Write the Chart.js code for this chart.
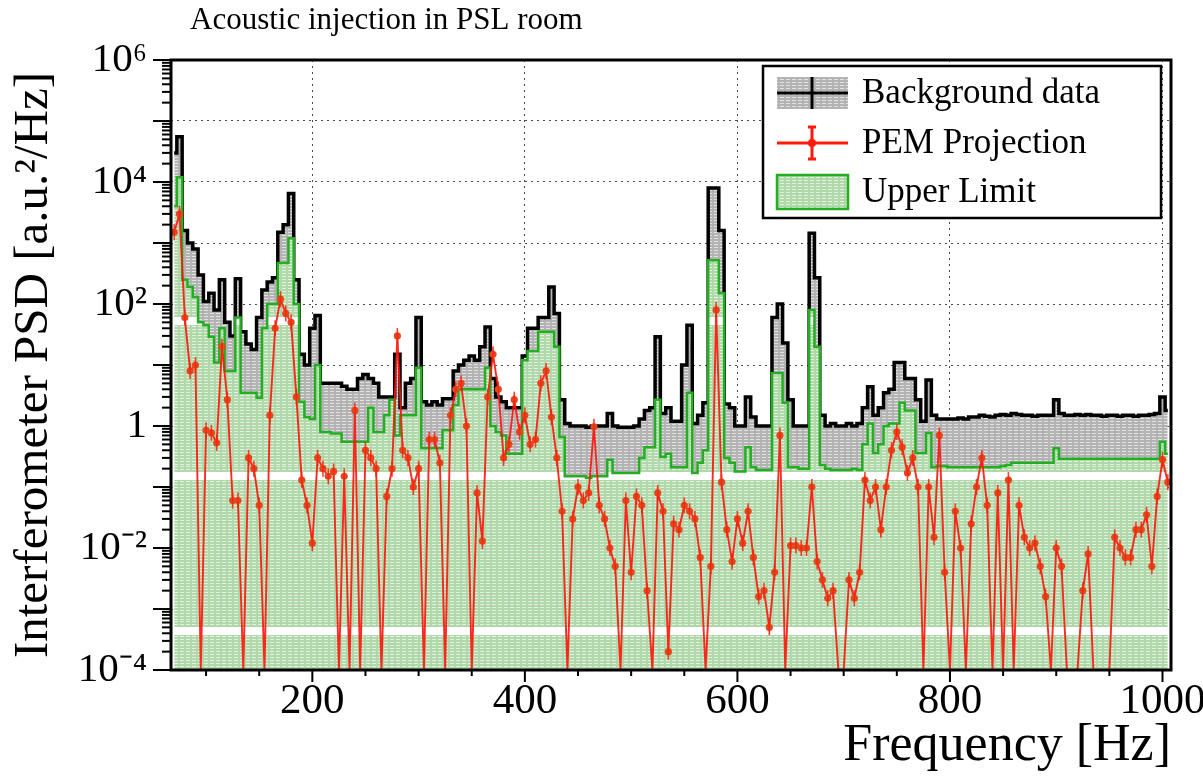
<!DOCTYPE html>
<html>
<head>
<meta charset="utf-8">
<script src="https://cdn.jsdelivr.net/npm/chart.js@4/dist/chart.umd.min.js"></script>
<style>
  html, body { margin: 0; padding: 0; background: #fff; }
  canvas { display: block; }
</style>
</head>
<body>
<canvas id="psdChart" width="1203" height="780"></canvas>
<script>
const SERIF = '"Liberation Serif", "Times New Roman", serif';

// bin centres [Hz]
const freqs = [
  70, 75, 80, 85, 90, 95, 100, 105, 110, 115,
  120, 125, 130, 135, 140, 145, 150, 155, 160, 165,
  170, 175, 180, 185, 190, 195, 200, 205, 210, 215,
  220, 225, 230, 235, 240, 245, 250, 255, 260, 265,
  270, 275, 280, 285, 290, 295, 300, 305, 310, 315,
  320, 325, 330, 335, 340, 345, 350, 355, 360, 365,
  370, 375, 380, 385, 390, 395, 400, 405, 410, 415,
  420, 425, 430, 435, 440, 445, 450, 455, 460, 465,
  470, 475, 480, 485, 490, 495, 500, 505, 510, 515,
  520, 525, 530, 535, 540, 545, 550, 555, 560, 565,
  570, 575, 580, 585, 590, 595, 600, 605, 610, 615,
  620, 625, 630, 635, 640, 645, 650, 655, 660, 665,
  670, 675, 680, 685, 690, 695, 700, 705, 710, 715,
  720, 725, 730, 735, 740, 745, 750, 755, 760, 765,
  770, 775, 780, 785, 790, 795, 800, 805, 810, 815,
  820, 825, 830, 835, 840, 845, 850, 855, 860, 865,
  870, 875, 880, 885, 890, 895, 900, 905, 910, 915,
  920, 925, 930, 935, 940, 945, 950, 955, 960, 965,
  970, 975, 980, 985, 990, 995, 1000, 1005
];

// interferometer background PSD
const background = [
  3e4, 5.5e4, 1600, 1000, 800, 300, 110, 150, 80, 250,
  50, 30, 260, 35, 22, 18, 60, 170, 230, 270,
  1500, 2000, 6500, 250, 15, 10, 40, 65, 5, 5,
  5, 5, 4.5, 4, 4, 6, 7, 6, 5, 3,
  3, 3, 15, 2, 5, 6, 60, 2.5, 2.2, 2.5,
  2.2, 2.8, 2.8, 8, 10, 12, 14, 12, 20, 42,
  6, 3, 2.5, 2, 2, 2, 14, 40, 40, 60,
  60, 190, 70, 2.7, 1.1, 1.0, 1.0, 1.0, 0.95, 1.0,
  1.0, 1.0, 1.6, 1.0, 0.95, 0.95, 0.95, 1.0, 1.3, 1.8,
  2, 29, 1.6, 2, 1.2, 1.2, 10, 45, 1.1, 1.5,
  2.4, 8000, 8000, 1600, 2.3, 2.0, 1.0, 1.0, 3, 1.4,
  1.0, 1.0, 1.0, 60, 100, 23, 2.7, 1.0, 1.0, 1.0,
  1450, 270, 1.5, 1.0, 1.1, 1.0, 1.0, 1.1, 1.0, 1.1,
  2, 4.4, 1.5, 2, 3.5, 4, 11, 11, 6, 6,
  2.7, 1.2, 5.7, 1.5, 1.3, 1.3, 1.3, 1.3, 1.35, 1.3,
  1.4, 1.4, 1.5, 1.45, 1.4, 1.5, 1.55, 1.5, 1.6, 1.55,
  1.5, 1.5, 1.45, 1.5, 1.5, 1.5, 2.7, 1.6, 1.5, 1.5,
  1.55, 1.5, 1.55, 1.5, 1.5, 1.45, 1.5, 1.5, 1.45, 1.5,
  1.5, 1.45, 1.5, 1.5, 1.55, 1.6, 3, 1.8
];

// upper limit
const upperLimit = [
  4000, 1.2e4, 250, 190, 130, 50, 45, 29, 11, 40,
  8, 8, 60, 3.5, 3.5, 3.5, 2.9, 40, 100, 100,
  470, 470, 1200, 100, 2.5, 1.4, 1.3, 10, 0.8, 0.8,
  0.75, 0.75, 0.55, 0.55, 0.55, 0.55, 0.55, 2, 0.8, 0.8,
  1.5, 2.7, 0.7, 1.5, 1.5, 1.5, 9, 0.43, 0.43, 0.43,
  0.43, 0.85, 0.85, 2.2, 4, 4, 4, 4, 4, 9,
  1, 0.8, 0.7, 0.35, 0.35, 0.35, 12, 17, 17, 35,
  35, 35, 20, 0.66, 0.15, 0.15, 0.15, 0.15, 0.14, 0.15,
  0.15, 0.15, 0.28, 0.17, 0.17, 0.17, 0.17, 0.17, 0.3, 0.45,
  0.45, 2.7, 0.31, 0.35, 0.21, 0.21, 0.21, 3.5, 0.17, 0.25,
  0.4, 520, 520, 150, 0.3, 0.25, 0.18, 0.18, 0.45, 0.21,
  0.19, 0.19, 0.19, 7.4, 7.4, 2.4, 0.21, 0.21, 0.2, 0.2,
  80, 20, 0.23, 0.2, 0.19, 0.19, 0.19, 0.19, 0.2, 0.19,
  0.5, 1.1, 0.36, 0.5, 1, 1.1, 1.1, 2.4, 1.8, 1.8,
  0.36, 0.36, 0.77, 0.21, 0.22, 0.22, 0.21, 0.21, 0.21, 0.21,
  0.21, 0.21, 0.21, 0.21, 0.21, 0.21, 0.22, 0.23, 0.25, 0.25,
  0.25, 0.25, 0.25, 0.25, 0.25, 0.25, 0.43, 0.29, 0.29, 0.29,
  0.29, 0.29, 0.29, 0.29, 0.29, 0.29, 0.29, 0.29, 0.29, 0.29,
  0.29, 0.29, 0.29, 0.29, 0.29, 0.29, 0.55, 0.35
];

// PEM projection (1e-4 = at or below the bottom of the frame)
const pemProjection = [
  1500, 3000, 60, 8, 10, 1e-4, 0.85, 0.77, 0.53, 20,
  2.7, 0.06, 0.06, 1e-4, 0.3, 0.2, 0.05, 1e-4, 1.5, 40,
  120, 70, 50, 3, 0.13, 0.05, 0.012, 0.3, 0.2, 0.15,
  0.18, 1e-4, 0.15, 1e-4, 1.8, 1e-4, 0.4, 0.3, 0.2, 1e-4,
  0.07, 0.2, 30, 0.4, 0.3, 0.1, 0.2, 1e-4, 0.6, 0.6,
  0.25, 1e-4, 1.5, 4, 5, 1, 1e-4, 0.08, 0.013, 3,
  15, 4, 0.3, 0.5, 2.7, 0.8, 1.5, 0.5, 0.6, 5,
  8, 1.4, 0.3, 0.04, 1e-4, 0.03, 0.1, 0.06, 0.08, 0.97,
  0.05, 0.03, 0.01, 0.005, 1e-4, 0.06, 0.004, 0.07, 0.05, 0.002,
  1e-4, 0.08, 0.04, 0.0002, 0.025, 0.02, 0.05, 0.04, 0.03, 0.007,
  1e-4, 0.005, 80, 0.12, 0.02, 0.006, 0.03, 0.012, 0.04, 0.007,
  0.0016, 0.002, 0.0005, 0.004, 0.7, 1e-4, 0.011, 0.011, 0.01, 0.01,
  0.1, 0.006, 0.003, 0.0015, 0.002, 1e-4, 1e-4, 0.003, 0.0015, 0.004,
  0.13, 0.06, 0.1, 0.02, 0.1, 0.4, 0.8, 0.45, 0.17, 0.3,
  0.1, 1e-4, 0.1, 0.015, 0.7, 0.004, 1e-4, 0.04, 0.01, 1e-4,
  0.025, 0.1, 0.3, 0.05, 1e-4, 0.08, 1e-4, 0.13, 1e-4, 0.05,
  0.015, 0.01, 0.012, 0.005, 0.0016, 1e-4, 0.01, 0.005, 1e-4, 1e-4,
  1e-4, 0.002, 0.008, 1e-4, 1e-4, 1e-4, 1e-4, 0.015, 0.01, 0.007,
  0.007, 0.02, 0.02, 0.035, 0.005, 0.07, 0.28, 0.12
];

const xTickValues = [200, 400, 600, 800, 1000];
const yDecades = [1e-4, 1e-3, 1e-2, 1e-1, 1, 10, 100, 1e3, 1e4, 1e5, 1e6];
const yTickLabels = { '6': '10\u2076', '4': '10\u2074', '2': '10\u00b2', '0': '1', '-2': '10\u207b\u00b2', '-4': '10\u207b\u2074' };
const legendLabels = ['Background data', 'PEM Projection', 'Upper Limit'];
const chartTitle = 'Acoustic injection in PSL room';

function makePattern(w, h, paint) {
  const c = document.createElement('canvas');
  c.width = w;
  c.height = h;
  paint(c.getContext('2d'));
  return c.getContext('2d').createPattern(c, 'repeat');
}

const grayHatch = makePattern(6, 3, g => {
  g.fillStyle = '#b3b3b3';
  g.fillRect(0, 0, 6, 3);
  g.fillStyle = '#e2e2e2';
  g.fillRect(0, 1, 4, 1);
});

const greenHatch = makePattern(6, 155, g => {
  g.fillStyle = 'rgb(176,216,170)';
  g.fillRect(0, 0, 6, 155);
  g.fillStyle = 'rgb(226,242,223)';
  for (let r = 1; r < 155; r += 3) g.fillRect(0, r, 4, 1);
  g.fillStyle = '#fff';
  g.fillRect(0, 7, 6, 8);
});

function line(ctx, x1, y1, x2, y2) {
  ctx.beginPath();
  ctx.moveTo(x1, y1);
  ctx.lineTo(x2, y2);
  ctx.stroke();
}

const errorBars = {
  id: 'errorBars',
  afterDatasetsDraw(chart) {
    const meta = chart.getDatasetMeta(2);
    const { ctx, chartArea: a } = chart;
    ctx.save();
    ctx.beginPath();
    ctx.rect(a.left, a.top, a.right - a.left, a.bottom - a.top);
    ctx.clip();
    ctx.strokeStyle = 'rgba(255,30,10,0.85)';
    ctx.lineWidth = 1.6;
    meta.data.forEach((pt, i) => {
      if (pemProjection[i] > 1e-4) line(ctx, pt.x, pt.y - 8, pt.x, pt.y + 8);
    });
    ctx.restore();
  }
};

const rootFrame = {
  id: 'rootFrame',
  afterDraw(chart) {
    const { ctx, chartArea: a, scales: { x, y } } = chart;
    ctx.save();
    ctx.strokeStyle = '#000';

    // frame
    ctx.lineWidth = 3;
    ctx.strokeRect(a.left, a.top, a.right - a.left, a.bottom - a.top);

    // log ticks on the y axis
    ctx.lineWidth = 2;
    for (let e = -4; e <= 6; e++) {
      const py = y.getPixelForValue(Math.pow(10, e));
      line(ctx, a.left - 18, py, a.left, py);
      if (e < 6) {
        for (let k = 2; k <= 9; k++) {
          const p = y.getPixelForValue(k * Math.pow(10, e));
          line(ctx, a.left - 9, p, a.left, p);
        }
      }
    }
    // x ticks
    for (let f = 100; f <= 1000; f += 50) {
      const px = x.getPixelForValue(f);
      line(ctx, px, a.bottom, px, a.bottom + (f % 200 === 0 ? 12 : 6));
    }

    // title
    ctx.fillStyle = '#000';
    ctx.font = '31px ' + SERIF;
    ctx.textAlign = 'left';
    ctx.textBaseline = 'middle';
    ctx.fillText(chartTitle, 190, 21);

    // legend
    const L = { x: 763, y: 66, w: 398, h: 152 };
    ctx.fillStyle = '#fff';
    ctx.fillRect(L.x, L.y, L.w, L.h);
    ctx.lineWidth = 2.5;
    ctx.strokeRect(L.x, L.y, L.w, L.h);
    const rows = [93, 143, 192];
    const sx0 = 777, sx1 = 848, sxm = 812;

    ctx.fillStyle = grayHatch;
    ctx.fillRect(sx0, rows[0] - 16, sx1 - sx0, 32);
    ctx.strokeStyle = '#000';
    ctx.lineWidth = 3;
    line(ctx, sx0, rows[0], sx1, rows[0]);
    line(ctx, sxm, rows[0] - 16, sxm, rows[0] + 16);

    ctx.strokeStyle = '#ff1a0a';
    ctx.lineWidth = 3;
    line(ctx, sx0, rows[1], sx1, rows[1]);
    line(ctx, sxm, rows[1] - 16, sxm, rows[1] + 16);
    line(ctx, sxm - 4, rows[1] - 16, sxm + 4, rows[1] - 16);
    line(ctx, sxm - 4, rows[1] + 16, sxm + 4, rows[1] + 16);
    ctx.fillStyle = '#ff1a0a';
    ctx.beginPath();
    ctx.arc(sxm, rows[1], 4, 0, Math.PI * 2);
    ctx.fill();

    ctx.fillStyle = greenHatch;
    ctx.fillRect(sx0, rows[2] - 17, sx1 - sx0, 34);
    ctx.strokeStyle = '#22b022';
    ctx.lineWidth = 2.5;
    ctx.strokeRect(sx0, rows[2] - 17, sx1 - sx0, 34);

    ctx.fillStyle = '#000';
    ctx.font = '35px ' + SERIF;
    ctx.textBaseline = 'middle';
    legendLabels.forEach((t, i) => ctx.fillText(t, 862, rows[i] + 1));
    ctx.restore();
  }
};

new Chart(document.getElementById('psdChart'), {
  type: 'line',
  data: {
    labels: freqs,
    datasets: [
      {
        label: 'Background data',
        data: background,
        order: 3,
        stepped: 'middle',
        borderColor: '#000',
        borderWidth: 3.5,
        pointRadius: 0,
        fill: { target: 1, above: grayHatch, below: 'rgba(0,0,0,0)' }
      },
      {
        label: 'Upper Limit',
        data: upperLimit,
        order: 2,
        stepped: 'middle',
        borderColor: '#22b022',
        borderWidth: 2.5,
        pointRadius: 0,
        fill: { target: 'start', above: greenHatch, below: greenHatch }
      },
      {
        label: 'PEM Projection',
        data: pemProjection,
        order: 1,
        borderColor: 'rgba(255,20,10,0.9)',
        borderWidth: 1.9,
        pointRadius: c => (c.raw > 1e-4 ? 3.6 : 0),
        pointBackgroundColor: '#e2481c',
        pointBorderWidth: 0,
        fill: false
      }
    ]
  },
  options: {
    responsive: false,
    animation: false,
    layout: { padding: { top: 60, right: 32, left: 0, bottom: 0 } },
    plugins: {
      legend: { display: false },
      tooltip: { enabled: false },
      title: { display: false }
    },
    scales: {
      x: {
        type: 'linear',
        min: 67,
        max: 1008,
        afterBuildTicks: s => { s.ticks = xTickValues.map(v => ({ value: v })); },
        afterFit: s => { s.height = 110; s.paddingLeft = 0; s.paddingRight = 0; },
        grid: { color: 'rgba(0,0,0,0.7)', lineWidth: 1, drawTicks: false },
        border: { display: false, dash: [2, 4] },
        ticks: {
          autoSkip: false,
          maxRotation: 0,
          padding: 6,
          color: '#000',
          font: { family: SERIF, size: 43 },
          callback: v => String(v)
        },
        title: {
          display: true,
          text: 'Frequency [Hz]',
          align: 'end',
          color: '#000',
          font: { family: SERIF, size: 52 },
          padding: { top: 0, bottom: 2 }
        }
      },
      y: {
        type: 'logarithmic',
        min: 1e-4,
        max: 1e6,
        afterBuildTicks: s => { s.ticks = yDecades.map(v => ({ value: v })); },
        afterFit: s => { s.width = 171; s.paddingTop = 0; s.paddingBottom = 0; },
        grid: { color: 'rgba(0,0,0,0.7)', lineWidth: 1, drawTicks: false },
        border: { display: false, dash: [2, 4] },
        ticks: {
          autoSkip: false,
          padding: 24,
          color: '#000',
          font: { family: SERIF, size: 41 },
          callback: v => yTickLabels[String(Math.round(Math.log10(v)))] || ''
        },
        title: {
          display: true,
          text: 'Interferometer PSD [a.u.\u00b2/Hz]',
          color: '#000',
          font: { family: SERIF, size: 49 },
          padding: { top: 5, bottom: 0 }
        }
      }
    }
  },
  plugins: [errorBars, rootFrame]
});
</script>
</body>
</html>
